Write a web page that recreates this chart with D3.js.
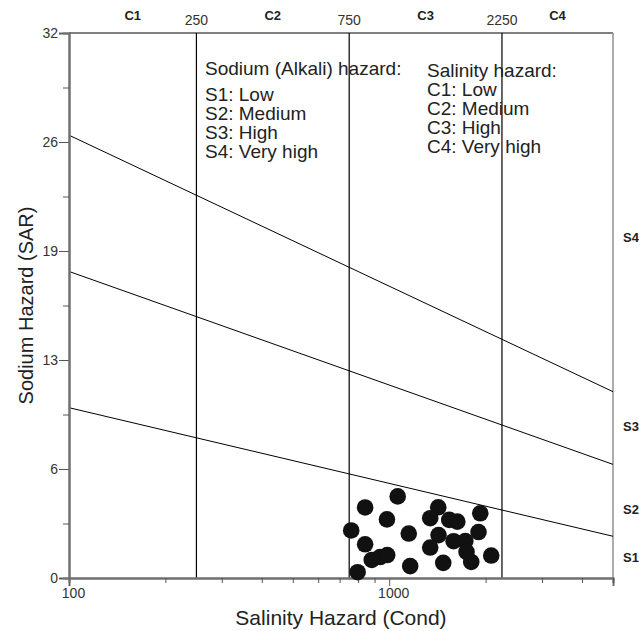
<!DOCTYPE html>
<html>
<head>
<meta charset="utf-8">
<script src="https://cdn.jsdelivr.net/npm/d3@7"></script>
<style>
  body { margin: 0; background: #fff; }
  svg text { font-family: "Liberation Sans", Arial, sans-serif; }
</style>
</head>
<body>
<div id="chart"></div>
<script>
var MARGIN = {TOP: 33, RIGHT: 26, BOTTOM: 53, LEFT: 69},
  WIDTH = 639 - MARGIN.LEFT - MARGIN.RIGHT,
  HEIGHT = 631 - MARGIN.TOP - MARGIN.BOTTOM;

// salinity classes (conductivity) and sodium classes (SAR)
var classBounds = [250, 750, 2250]
var classLabels = ["C1", "C2", "C3", "C4"]
// SAR of each sodium boundary at EC = 100 and EC = 5000
var sarLines = [[10.0, 2.45], [18.0, 6.67], [26.0, 10.94]]
var sodiumLabels = ["S1", "S2", "S3", "S4"]
var sodiumLabelSar = [1.2, 4.0, 8.9, 20.0]

var yTicks = [0, 6.4, 12.8, 19.2, 25.6, 32]
var yMinor = [3.2, 9.6, 16, 22.4, 28.8]
var xMajor = [100, 1000]
var xMinor = [200, 300, 400, 500, 600, 700, 800, 900, 2000, 3000, 4000, 5000]

var sodiumText = ["S1: Low", "S2: Medium", "S3: High", "S4: Very high"]
var salinityText = ["C1: Low", "C2: Medium", "C3: High", "C4: Very high"]

// samples
var ec = [1063, 841, 984, 761, 1151, 841, 882, 937, 986, 797, 1163, 1423, 1343, 1540, 1632,
  1925, 1426, 1901, 1343, 1589, 1729, 1744, 1804, 2083, 1475]
var sar = [4.79, 4.14, 3.44, 2.79, 2.61, 1.98, 1.06, 1.23, 1.35, 0.34, 0.70, 4.15, 3.51, 3.41, 3.31,
  3.80, 2.52, 2.70, 1.79, 2.16, 2.17, 1.53, 0.94, 1.32, 0.89]

var svg = d3.select("#chart").append("svg")
  .attr("width", 639)
  .attr("height", 631)
  .append("g")
  .attr("transform", "translate(" + MARGIN.LEFT + "," + MARGIN.TOP + ")");

var x = d3.scaleLog().domain([100, 5000]).range([0, WIDTH])
var y = d3.scaleLinear().domain([0, 32]).range([HEIGHT, 0])

// frame: top and right
svg.append("line").attr("x1", 0).attr("x2", WIDTH).attr("y1", 0).attr("y2", 0)
  .style("stroke", "#808080").style("stroke-width", 2)
svg.append("line").attr("x1", WIDTH).attr("x2", WIDTH).attr("y1", 0).attr("y2", HEIGHT)
  .style("stroke", "#909090").style("stroke-width", 1.5)

// salinity class boundaries
svg.selectAll(".cline")
  .data(classBounds)
  .enter().append("line")
  .attr("x1", function(d){ return x(d) })
  .attr("x2", function(d){ return x(d) })
  .attr("y1", 0).attr("y2", HEIGHT)
  .style("stroke", "#000").style("stroke-width", 1.2)

// sodium boundaries
var line = d3.line()
  .x(function(d){ return x(d[0]) })
  .y(function(d){ return y(d[1]) })

svg.selectAll(".sline")
  .data(sarLines)
  .enter().append("path")
  .attr("d", function(d){ return line([[100, d[0]], [5000, d[1]]]) })
  .style("fill", "none").style("stroke", "#000").style("stroke-width", 1)

// axes
var yAxis = d3.axisLeft(y).tickValues(yTicks).tickFormat(function(d){ return Math.round(d) })
  .tickSize(10).tickPadding(1)
var gy = svg.append("g").call(yAxis)
svg.append("g").call(d3.axisLeft(y).tickValues(yMinor).tickSize(6).tickFormat(""))

var xAxis = d3.axisBottom(x).tickValues(xMajor).tickFormat(d3.format("d")).tickSize(8).tickPadding(2)
var gx = svg.append("g").attr("transform", "translate(0," + HEIGHT + ")").call(xAxis)
svg.append("g").attr("transform", "translate(0," + HEIGHT + ")")
  .call(d3.axisBottom(x).tickValues(xMinor).tickSize(5).tickFormat(""))

svg.selectAll(".domain").style("stroke", "#707070").style("stroke-width", 2)
svg.selectAll(".tick line").style("stroke", "#555")
svg.selectAll(".tick text").style("font-size", "14px").style("fill", "#333")
gx.selectAll(".tick text").attr("dx", "4px")

// top labels
svg.selectAll(".ctop")
  .data(classBounds)
  .enter().append("text")
  .attr("x", function(d){ return x(d) })
  .attr("y", -8)
  .attr("text-anchor", "middle")
  .style("font-size", "14px").style("fill", "#333")
  .text(function(d){ return d })

var cEdges = [100].concat(classBounds).concat([5000])
svg.selectAll(".clab")
  .data(classLabels)
  .enter().append("text")
  .attr("x", function(d, i){ return (x(cEdges[i]) + x(cEdges[i + 1])) / 2 })
  .attr("y", -13)
  .attr("text-anchor", "middle")
  .style("font-size", "13px").style("font-weight", "bold").style("fill", "#222")
  .text(function(d){ return d })

// right labels
svg.selectAll(".slab")
  .data(sodiumLabels)
  .enter().append("text")
  .attr("x", WIDTH + 10)
  .attr("y", function(d, i){ return y(sodiumLabelSar[i]) })
  .attr("dy", "0.35em")
  .style("font-size", "13px").style("font-weight", "bold").style("fill", "#222")
  .text(function(d){ return d })

// legend texts
svg.append("text").attr("x", 136).attr("y", 42)
  .style("font-size", "19px").style("fill", "#222")
  .text("Sodium (Alkali) hazard:")
svg.selectAll(".stxt")
  .data(sodiumText)
  .enter().append("text")
  .attr("x", 136)
  .attr("y", function(d, i){ return 68 + i * 19 })
  .style("font-size", "19px").style("fill", "#222")
  .text(function(d){ return d })

svg.append("text").attr("x", 358).attr("y", 44)
  .style("font-size", "19px").style("fill", "#222")
  .text("Salinity hazard:")
svg.selectAll(".ctxt")
  .data(salinityText)
  .enter().append("text")
  .attr("x", 358)
  .attr("y", function(d, i){ return 63 + i * 19 })
  .style("font-size", "19px").style("fill", "#222")
  .text(function(d){ return d })

// axis titles
svg.append("text")
  .attr("x", WIDTH / 2).attr("y", HEIGHT + 47)
  .attr("text-anchor", "middle")
  .style("font-size", "21px").style("fill", "#222")
  .text("Salinity Hazard (Cond)")

svg.append("text")
  .attr("transform", "translate(-36," + (HEIGHT / 2) + ") rotate(-90)")
  .attr("text-anchor", "middle")
  .style("font-size", "20px").style("fill", "#222")
  .text("Sodium Hazard (SAR)")

// samples
svg.selectAll("circle")
  .data(ec)
  .enter().append("circle")
  .attr("cx", function(d){ return x(d) })
  .attr("cy", function(d, i){ return y(sar[i]) })
  .attr("r", 8.3)
  .style("fill", "#111")
</script>
</body>
</html>
